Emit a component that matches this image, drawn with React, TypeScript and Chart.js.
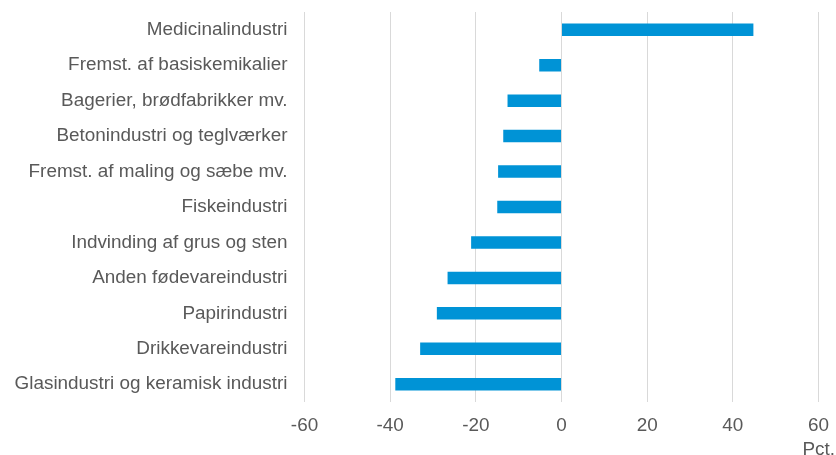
import React, { useEffect, useRef } from "react";
import { Chart, registerables } from "chart.js";

Chart.register(...registerables);

const categories = [
  "Medicinalindustri",
  "Fremst. af basiskemikalier",
  "Bagerier, brødfabrikker mv.",
  "Betonindustri og teglværker",
  "Fremst. af maling og sæbe mv.",
  "Fiskeindustri",
  "Indvinding af grus og sten",
  "Anden fødevareindustri",
  "Papirindustri",
  "Drikkevareindustri",
  "Glasindustri og keramisk industri",
];

const values = [44.8, -5.2, -12.6, -13.6, -14.8, -15.0, -21.1, -26.6, -29.1, -33.0, -38.8];

const xTickMin = -60;
const xTickMax = 60;
const xTickStep = 20;
const unitLabel = "Pct.";

const FONT = "'Liberation Sans', Arial, sans-serif";
const TEXT = "#595959";
const FS = 18.9;

function zeroPad(scale: any) {
  scale.paddingTop = 0;
  scale.paddingBottom = 0;
  scale.paddingLeft = 0;
  scale.paddingRight = 0;
}

export default function App() {
  const ref = useRef<HTMLCanvasElement | null>(null);

  useEffect(() => {
    if (!ref.current) return;
    const unitPlugin = {
      id: "unitLabel",
      afterDraw(chart: any) {
        const ctx = chart.ctx;
        ctx.save();
        ctx.font = `${FS}px ${FONT}`;
        ctx.fillStyle = TEXT;
        ctx.textAlign = "right";
        ctx.textBaseline = "alphabetic";
        ctx.fillText(unitLabel, 835, 455);
        ctx.restore();
      },
    };
    const chart = new Chart(ref.current, {
      type: "bar",
      data: {
        labels: categories,
        datasets: [
          {
            data: values,
            backgroundColor: "#0093D6",
            borderWidth: 0,
            barPercentage: 0.353,
            categoryPercentage: 1.0,
          },
        ],
      },
      options: {
        indexAxis: "y",
        responsive: false,
        animation: false,
        devicePixelRatio: 1,
        layout: { padding: { top: 12, right: 17.5, bottom: 0, left: 0 } },
        plugins: {
          legend: { display: false },
          tooltip: { enabled: false },
        },
        scales: {
          x: {
            min: xTickMin,
            max: xTickMax,
            ticks: {
              stepSize: xTickStep,
              color: TEXT,
              font: { family: FONT, size: FS },
              padding: 12,
            },
            grid: { color: "#d9d9d9", lineWidth: 1, drawTicks: false },
            border: { display: false },
            afterFit(scale: any) {
              scale.height = 53;
              zeroPad(scale);
            },
          },
          y: {
            ticks: {
              color: TEXT,
              font: { family: FONT, size: FS },
              padding: 17,
              autoSkip: false,
            },
            grid: { display: false, drawTicks: false },
            border: { display: false },
            afterFit(scale: any) {
              scale.width = 304.5;
              zeroPad(scale);
            },
          },
        },
      },
      plugins: [unitPlugin],
    });
    return () => chart.destroy();
  }, []);

  return (
    <div style={{ position: "absolute", left: 0, top: 0, width: 836, height: 455, background: "#fff" }}>
      <canvas ref={ref} width={836} height={455} style={{ display: "block" }} />
    </div>
  );
}
